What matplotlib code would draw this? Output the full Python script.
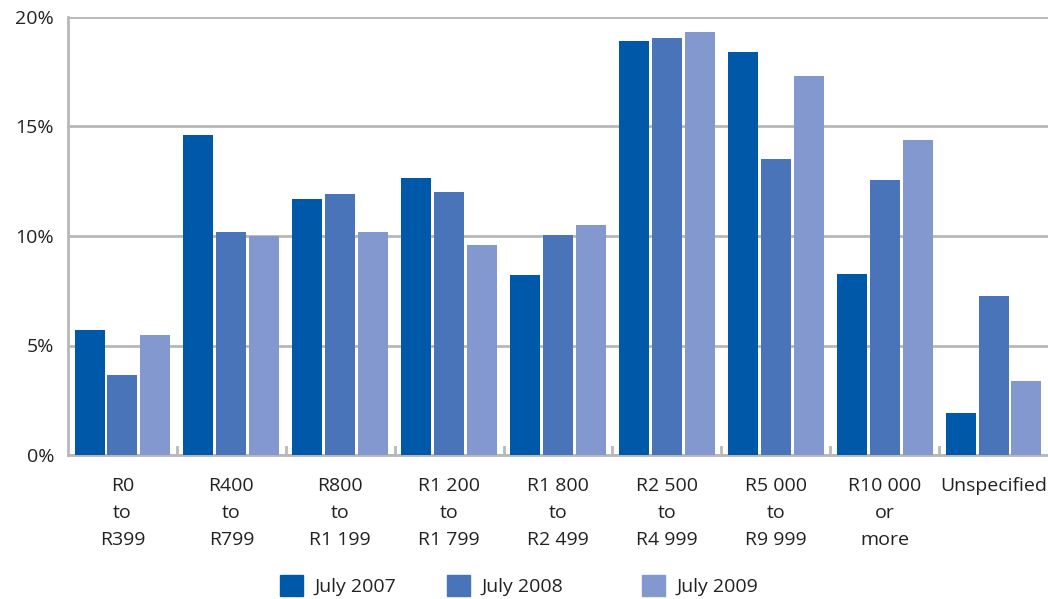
import numpy as np
import matplotlib.pyplot as plt
from matplotlib.patches import Patch

plt.rcParams['font.family'] = ['Open Sans', 'DejaVu Sans']

# 收入区间
categories = ["R0\nto\nR399", "R400\nto\nR799", "R800\nto\nR1 199", "R1 200\nto\nR1 799",
              "R1 800\nto\nR2 499", "R2 500\nto\nR4 999", "R5 000\nto\nR9 999",
              "R10 000\nor\nmore", "Unspecified"]
series_names = ["July 2007", "July 2008", "July 2009"]
july_2007 = [5.7, 14.6, 11.7, 12.65, 8.2, 18.9, 18.4, 8.25, 1.9]
july_2008 = [3.65, 10.2, 11.9, 12.0, 10.05, 19.05, 13.5, 12.55, 7.25]
july_2009 = [5.5, 10.0, 10.2, 9.6, 10.5, 19.3, 17.3, 14.4, 3.4]
yticks = [0, 5, 10, 15, 20]

colors = ["#0058a8", "#4a74ba", "#8298cf"]
grid_c = "#b8b8b8"
txt_c = "#222222"

fig = plt.figure(figsize=(10.48, 5.99), dpi=100)
ax = fig.add_axes([68 / 1048, 1 - 455 / 599, 980 / 1048, 438 / 599])

x = np.arange(len(categories))
w = 0.275
step = 0.302
for i, vals in enumerate([july_2007, july_2008, july_2009]):
    ax.bar(x + (i - 1) * step, vals, width=w, color=colors[i],
           label=series_names[i], zorder=3)

ax.set_xlim(-0.5, len(categories) - 0.5)
ax.set_ylim(0, 20)
ax.set_yticks(yticks)
ax.set_yticklabels([f"{t}%" for t in yticks], fontsize=14, color=txt_c)
ax.yaxis.grid(True, color=grid_c, linewidth=2)
ax.set_axisbelow(True)

ax.set_xticks(x)
ax.set_xticklabels(categories, fontsize=14, color=txt_c, linespacing=1.62)
ax.tick_params(axis='x', length=0, pad=16)
ax.tick_params(axis='y', length=0, pad=10)
# 分组之间的小刻度
for b in x[:-1] + 0.5:
    ax.plot([b, b], [0, 0.35], color=grid_c, linewidth=2, zorder=2, clip_on=False)

for s in ['top', 'right']:
    ax.spines[s].set_visible(False)
for s in ['left', 'bottom']:
    ax.spines[s].set_color(grid_c)
    ax.spines[s].set_linewidth(2)

# 图例：三个单独放置
leg_x = [273, 440, 635]
for i, name in enumerate(series_names):
    leg = fig.legend(handles=[Patch(color=colors[i], label=name)],
                     loc='lower left', bbox_to_anchor=(leg_x[i] / 1048, -0.006),
                     borderaxespad=0, borderpad=0.35, frameon=False, fontsize=14,
                     handlelength=1.2, handleheight=1.3, handletextpad=0.6)
    for t in leg.get_texts():
        t.set_color(txt_c)

fig.savefig("out.png", dpi=100)
